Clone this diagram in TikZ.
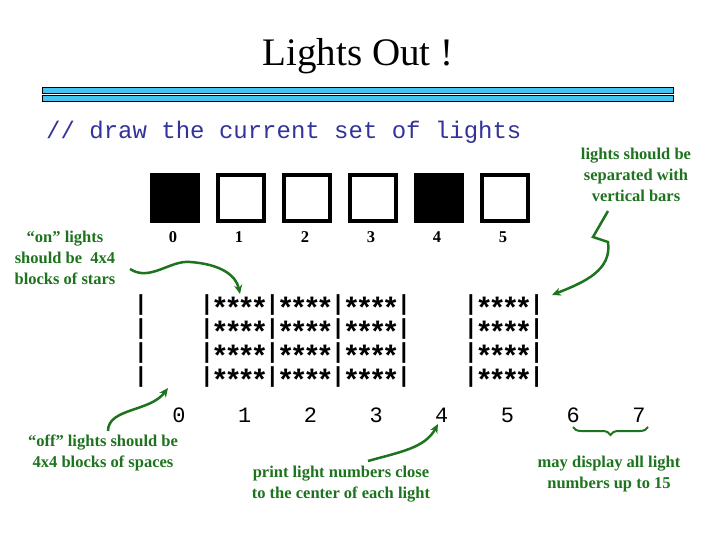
\documentclass[tikz,border=0pt]{standalone}
\usepackage{graphicx}
\usepackage{fontspec}
\setmainfont{Liberation Serif}
\setmonofont{Liberation Mono}
\usetikzlibrary{arrows.meta,decorations.pathreplacing}
\definecolor{notegreen}{RGB}{30,115,30}
\definecolor{codeblue}{RGB}{51,51,153}
\definecolor{barcyan}{RGB}{66,197,238}
\newcommand\onestar{\makebox[0.6em]{\smash{\raisebox{-0.38em}{\scalebox{1.35}{*}}}}}
\newcommand\fourstars{\onestar\onestar\onestar\onestar}

\begin{document}
\begin{tikzpicture}[x=1pt,y=-1pt,
note/.style={font=\fontsize{16.5}{21}\selectfont\bfseries, text=notegreen, align=center, inner sep=0pt},
pointer/.style={-{Stealth[length=9pt,width=8pt]}, draw=notegreen, line width=2.5pt},
lightbox/.style={draw=black, line width=3.5pt, minimum size=46pt, inner sep=0pt},
starrow/.style={font=\fontsize{21.9}{24}\selectfont\ttfamily\bfseries, inner sep=0pt},
lightnum/.style={font=\fontsize{21.9}{24}\selectfont\ttfamily, inner sep=0pt}]
\fill[white] (0,0) rectangle (720,540);
\useasboundingbox (0,0) rectangle (720,540);
% title and the double bar
\node[font=\fontsize{39}{39}\selectfont, anchor=base, inner sep=0pt] (title) at (358,66) {Lights Out !};
\draw[fill=barcyan, line width=0.8pt] (42,87) rectangle (673,93);
\draw[fill=barcyan, line width=0.8pt] (42,95) rectangle (673,101);
\node[font=\fontsize{24}{24}\selectfont\ttfamily, text=codeblue, anchor=base west, inner sep=0pt] (code) at (46,139) {// draw the current set of lights};
% the six lights
\foreach \i/\x/\f in {0/175/black,1/241/white,2/307/white,3/373/white,4/439/black,5/505/white} {
  \node[lightbox, fill=\f] (sq\i) at (\x,198) {};
  \node[font=\fontsize{16.5}{16}\selectfont\bfseries, inner sep=0pt] (sqn\i) at (\x-2,237) {\i};
}
% what gets printed
\foreach \r/\y in {1/305,2/329,3/353,4/377} {
  \node[starrow] (bar\r) at (141,\y) {|};
  \node[starrow] (left\r) at (305.4,\y) {|\fourstars|\fourstars|\fourstars|};
  \node[starrow] (right\r) at (503.9,\y) {|\fourstars|};
}
\foreach \i in {0,...,7}
  \node[lightnum] (n\i) at (179+65.7*\i,415) {\i};
% notes
\node[note] (sepnote) at (636,175) {lights should be\\separated with\\vertical bars};
\node[note] (onnote) at (65,258) {“on” lights\\should be~~4x4\\blocks of stars};
\node[note] (offnote) at (103,453) {“off” lights should be\\4x4 blocks of spaces};
\node[note] (printnote) at (341,484) {print light numbers close\\to the center of each light};
\node[note] (maynote) at (609,474) {may display all light\\numbers up to 15};
% pointers
\coordinate (ontail) at (130,269);
\coordinate (onhead) at (240,294);
\coordinate (offtail) at (108,431);
\coordinate (offhead) at (168,388);
\coordinate (printtail) at (368,461);
\coordinate (printhead) at (438,424);
\coordinate (septail) at (608,211);
\coordinate (sephead) at (552,295);
\coordinate (brl) at (573,427);
\coordinate (brr) at (648,427);
\draw[pointer] (ontail) .. controls (150,282) and (170,260) .. (190,262) .. controls (220,264) and (236,275) .. (onhead);
\draw[pointer] (offtail) .. controls (108,408) and (150,412) .. (offhead);
\draw[pointer] (printtail) .. controls (400,452) and (425,448) .. (printhead);
\draw[pointer] (septail) -- (593,237) -- (608,242) .. controls (612,270) and (585,282) .. (sephead);
\draw[notegreen, line width=2pt, decorate, decoration={brace, mirror, amplitude=8pt}] (brl) -- (brr);
\end{tikzpicture}
\end{document}
